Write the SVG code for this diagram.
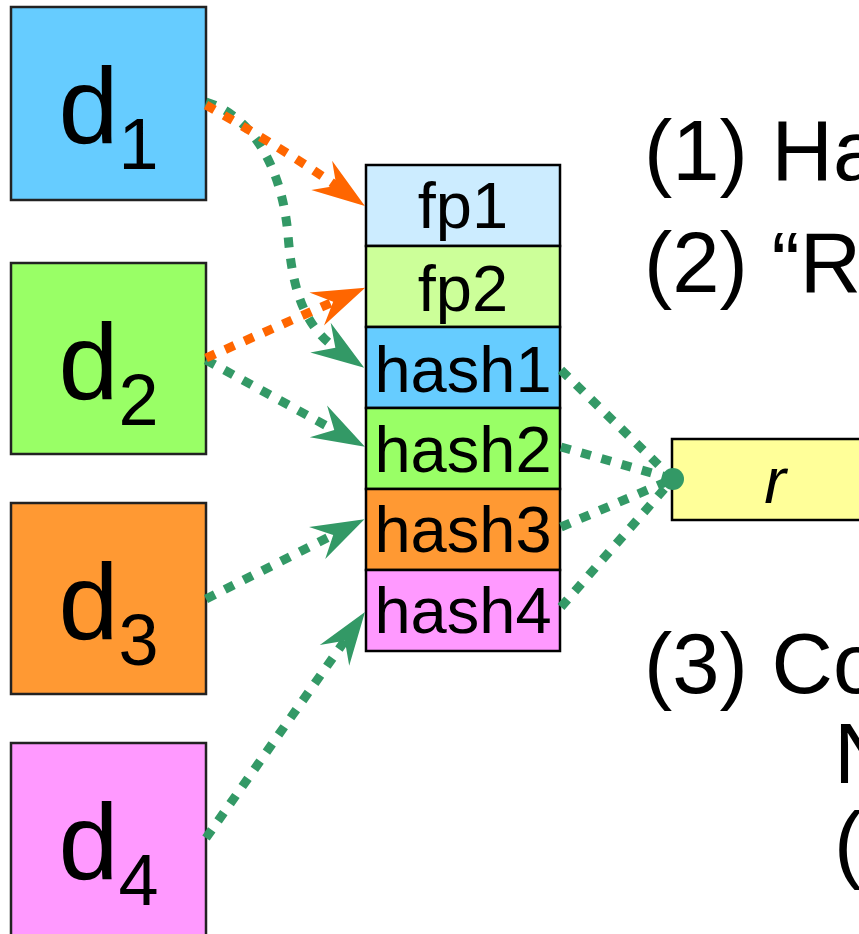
<svg xmlns="http://www.w3.org/2000/svg" width="859" height="934" viewBox="0 0 859 934">
  <style>
    .src { stroke: #222; stroke-width: 2.5; }
    .cell { stroke: #000; stroke-width: 2.5; }
    .big { font-family: "Liberation Sans", Arial, sans-serif; font-size: 108px; fill: #000; text-anchor: middle; }
    .sub { font-size: 72px; }
    .lbl { font-family: "Liberation Sans", Arial, sans-serif; font-size: 65px; fill: #000; text-anchor: middle; }
    .note { font-family: "Liberation Sans", Arial, sans-serif; font-size: 85px; fill: #000; }
    .green { fill: none; stroke: #339966; stroke-width: 9; stroke-dasharray: 10 11; }
    .orange { fill: none; stroke: #FF6600; stroke-width: 9; stroke-dasharray: 10 11; }
  </style>
  <defs>
    <marker id="arrowGreen" markerUnits="userSpaceOnUse" viewBox="-30 -25 70 50" markerWidth="70" markerHeight="50" refX="0" refY="0" orient="auto" overflow="visible">
      <path d="M33,0 L-20,-18 L-2,0 L-20,18 Z" fill="#339966"/>
    </marker>
    <marker id="arrowOrange" markerUnits="userSpaceOnUse" viewBox="-30 -25 70 50" markerWidth="70" markerHeight="50" refX="0" refY="0" orient="auto" overflow="visible">
      <path d="M33,0 L-20,-18 L-2,0 L-20,18 Z" fill="#FF6600"/>
    </marker>
  </defs>

  <rect width="859" height="934" fill="#fff"/>

  <!-- data blocks -->
  <g id="d1">
    <rect class="src" x="11" y="7" width="195" height="193" fill="#66CCFF"/>
    <text class="big" x="108.5" y="143">d<tspan class="sub" dy="26">1</tspan></text>
  </g>
  <g id="d2">
    <rect class="src" x="11" y="263" width="195" height="191" fill="#99FF66"/>
    <text class="big" x="108.5" y="399">d<tspan class="sub" dy="26">2</tspan></text>
  </g>
  <g id="d3">
    <rect class="src" x="11" y="503" width="195" height="191" fill="#FF9933"/>
    <text class="big" x="108.5" y="639">d<tspan class="sub" dy="26">3</tspan></text>
  </g>
  <g id="d4">
    <rect class="src" x="11" y="743" width="195" height="193" fill="#FF99FF"/>
    <text class="big" x="108.5" y="879">d<tspan class="sub" dy="26">4</tspan></text>
  </g>

  <!-- fingerprint / hash table -->
  <g id="fp1">
    <rect class="cell" x="366" y="165" width="194" height="81" fill="#CCECFF"/>
    <text class="lbl" x="463" y="228">fp1</text>
  </g>
  <g id="fp2">
    <rect class="cell" x="366" y="246" width="194" height="81" fill="#CCFF99"/>
    <text class="lbl" x="463" y="311">fp2</text>
  </g>
  <g id="hash1">
    <rect class="cell" x="366" y="327" width="194" height="81" fill="#66CCFF"/>
    <text class="lbl" x="463" y="392">hash1</text>
  </g>
  <g id="hash2">
    <rect class="cell" x="366" y="408" width="194" height="81" fill="#99FF66"/>
    <text class="lbl" x="463" y="472">hash2</text>
  </g>
  <g id="hash3">
    <rect class="cell" x="366" y="489" width="194" height="81" fill="#FF9933"/>
    <text class="lbl" x="463" y="552">hash3</text>
  </g>
  <g id="hash4">
    <rect class="cell" x="366" y="570" width="194" height="81" fill="#FF99FF"/>
    <text class="lbl" x="463" y="633">hash4</text>
  </g>

  <!-- result -->
  <g id="r">
    <rect class="cell" x="672" y="439" width="200" height="81" fill="#FFFF99"/>
    <text class="lbl" x="775" y="503" font-style="italic">r</text>
  </g>

  <!-- connectors -->
  <g id="connectors">
    <path class="green" d="M206,102 C250,115 282,165 288,235 C292,285 302,325 337,349" marker-end="url(#arrowGreen)"/>
    <path class="green" d="M206,360 L336,431" marker-end="url(#arrowGreen)"/>
    <path class="green" d="M206,599 L335,534" marker-end="url(#arrowGreen)"/>
    <path class="green" d="M206,838 L346,639" marker-end="url(#arrowGreen)"/>
    <path class="orange" d="M206,105 C250,130 300,160 338,187" marker-end="url(#arrowOrange)"/>
    <path class="orange" d="M206,358 L335,301" marker-end="url(#arrowOrange)"/>

    <path class="green" d="M561,370 L673,479"/>
    <path class="green" d="M561,447 L673,479"/>
    <path class="green" d="M561,527 L673,479"/>
    <path class="green" d="M561,607 L673,479"/>
    <circle cx="673" cy="479" r="11" fill="#339966"/>
  </g>

  <!-- steps -->
  <g id="steps">
    <text class="note" x="644" y="180">(1) Ha</text>
    <text class="note" x="644" y="292">(2) “R</text>
    <text class="note" x="644" y="693">(3) Co</text>
    <text class="note" x="834" y="783">N</text>
    <text class="note" x="834" y="872">(</text>
  </g>
</svg>
